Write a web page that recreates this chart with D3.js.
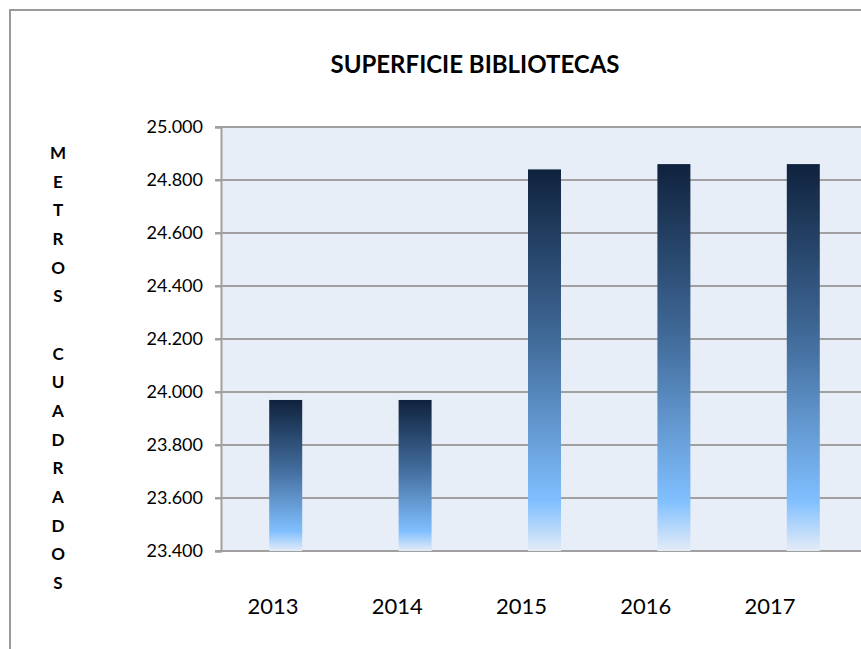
<!DOCTYPE html>
<html>
<head>
<meta charset="utf-8">
<script src="https://cdn.jsdelivr.net/npm/d3@7"></script>
<style>
  html, body { margin: 0; padding: 0; background: #fff; }
  svg { display: block; }
</style>
</head>
<body>
<div id="chart"></div>
<script>
// datos de la grafica
const years = ["2013", "2014", "2015", "2016", "2017"];
const superficie = [23970, 23970, 24840, 24860, 24860];
const yTicks = [23400, 23600, 23800, 24000, 24200, 24400, 24600, 24800, 25000];
const yTitle = "METROS CUADRADOS";
const chartTitle = "SUPERFICIE BIBLIOTECAS";

const width = 861, height = 649;
const plot = { left: 221, top: 127, right: 868, bottom: 551 };

const svg = d3.select("#chart")
  .append("svg")
  .attr("width", width)
  .attr("height", height);

// degradado de las barras
const grad = svg.append("defs").append("linearGradient")
  .attr("id", "barGrad")
  .attr("x1", 0).attr("y1", 0).attr("x2", 0).attr("y2", 1);
grad.append("stop").attr("offset", "0%").attr("stop-color", "#0f223d");
grad.append("stop").attr("offset", "45%").attr("stop-color", "#416b9a");
grad.append("stop").attr("offset", "87%").attr("stop-color", "#80bfff");
grad.append("stop").attr("offset", "100%").attr("stop-color", "#e4ecf6");

// marco exterior
svg.append("rect")
  .attr("x", 10).attr("y", 10)
  .attr("width", 900).attr("height", 700)
  .attr("fill", "none")
  .attr("stroke", "#9a9a9a")
  .attr("stroke-width", 2);

const x = d3.scaleBand()
  .domain(years)
  .range([plot.left, plot.right])
  .paddingInner(0.745)
  .paddingOuter(0.3725);

// las etiquetas de los años quedan algo desplazadas respecto a las barras
const xLabel = d3.scalePoint()
  .domain(years)
  .range([273, 770]);

const y = d3.scaleLinear()
  .domain([23400, 25000])
  .range([plot.bottom, plot.top]);

// fondo del area de trazado
svg.append("rect")
  .attr("x", plot.left).attr("y", plot.top)
  .attr("width", plot.right - plot.left)
  .attr("height", plot.bottom - plot.top)
  .attr("fill", "#e8eef7");

// lineas de cuadricula
svg.append("g")
  .selectAll("line")
  .data(yTicks)
  .join("line")
  .attr("x1", plot.left - 6)
  .attr("x2", plot.right)
  .attr("y1", d => y(d))
  .attr("y2", d => y(d))
  .attr("stroke", "#a0a0a0")
  .attr("stroke-width", 2);

// eje y
const fmt = d3.format(",.0f");
svg.append("g")
  .attr("transform", `translate(${plot.left},0)`)
  .call(d3.axisLeft(y).tickValues(yTicks).tickSize(6).tickPadding(12)
    .tickFormat(d => fmt(d).replace(",", ".")))
  .call(g => g.select(".domain").attr("stroke", "#a0a0a0").attr("stroke-width", 2))
  .call(g => g.selectAll(".tick line").attr("stroke", "#a0a0a0").attr("stroke-width", 2))
  .call(g => g.selectAll(".tick text")
    .attr("font-family", "Lato, 'Open Sans', sans-serif")
    .attr("font-size", 18)
    .attr("fill", "#000"));

// barras
svg.append("g")
  .selectAll("rect")
  .data(superficie)
  .join("rect")
  .attr("x", (d, i) => x(years[i]))
  .attr("y", d => y(d))
  .attr("width", x.bandwidth())
  .attr("height", d => y(23400) - y(d))
  .attr("fill", "url(#barGrad)");

// etiquetas de los años
svg.append("g")
  .selectAll("text")
  .data(years)
  .join("text")
  .attr("x", d => xLabel(d))
  .attr("y", 614)
  .attr("text-anchor", "middle")
  .attr("font-family", "Lato, 'Open Sans', sans-serif")
  .attr("font-size", 22)
  .attr("fill", "#000")
  .text(d => d);

// titulo
svg.append("text")
  .attr("x", 475)
  .attr("y", 73)
  .attr("text-anchor", "middle")
  .attr("font-family", "Lato, 'Open Sans', sans-serif")
  .attr("font-weight", "bold")
  .attr("font-size", 24)
  .attr("fill", "#000")
  .text(chartTitle);

// titulo vertical del eje, una letra por linea
svg.append("g")
  .selectAll("text")
  .data(yTitle.split(""))
  .join("text")
  .attr("x", 58)
  .attr("y", (d, i) => 159 + i * 28.67)
  .attr("text-anchor", "middle")
  .attr("font-family", "Lato, 'Open Sans', sans-serif")
  .attr("font-weight", "bold")
  .attr("font-size", 17)
  .attr("fill", "#000")
  .text(d => d);
</script>
</body>
</html>
